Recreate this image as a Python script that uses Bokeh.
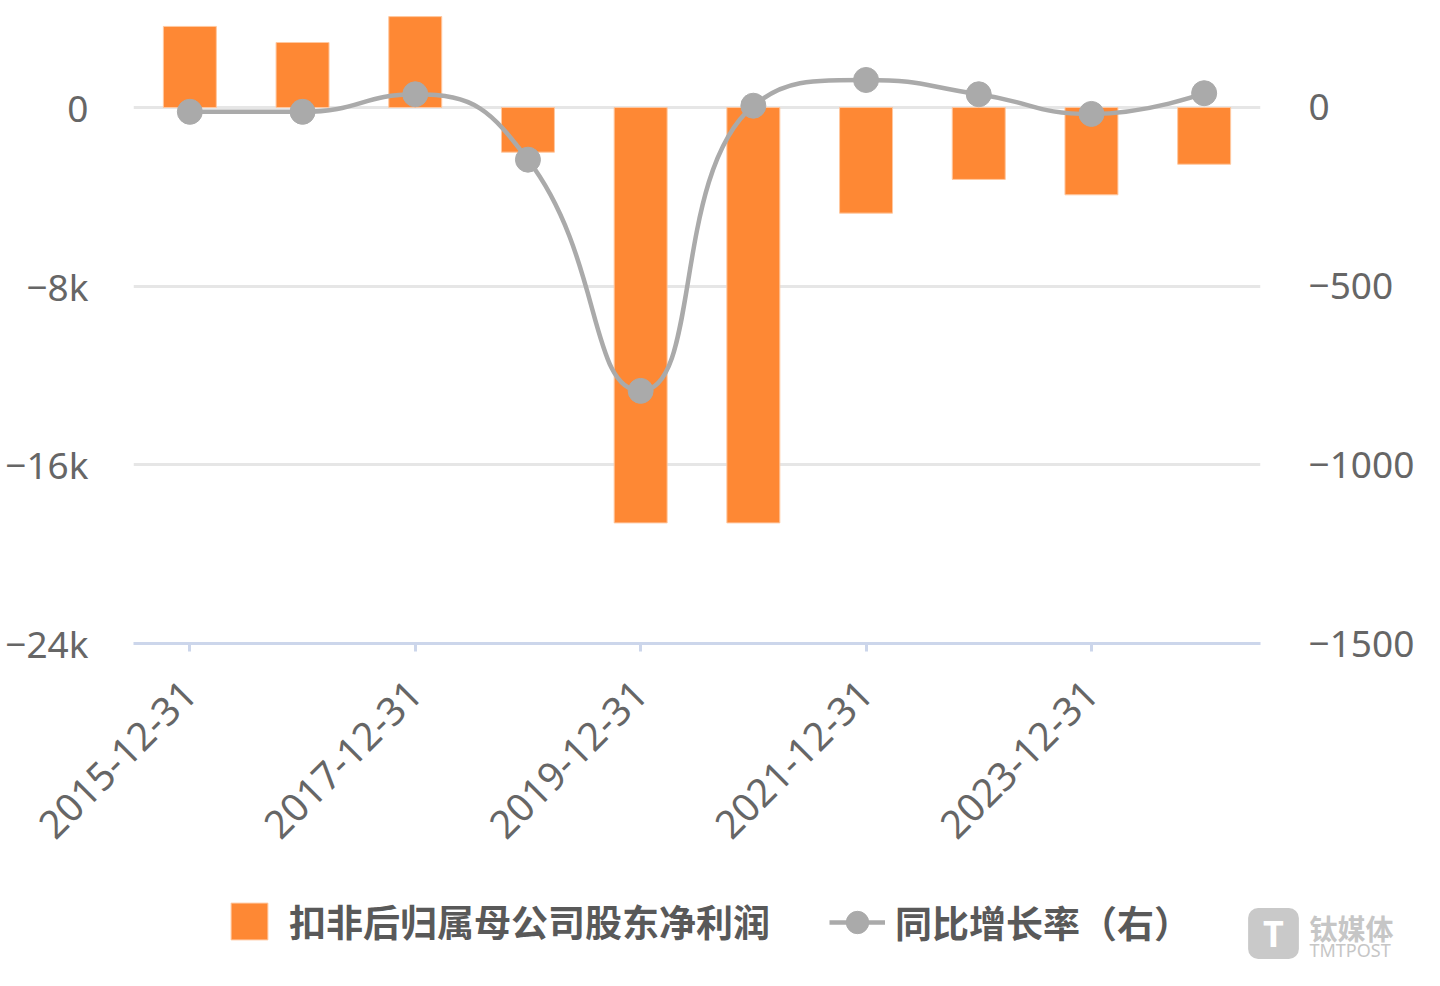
import math
from bokeh.plotting import figure
from bokeh.layouts import column
from bokeh.models import (Range1d, LinearAxis, FixedTicker, Legend, LegendItem,
                          Label, ColumnDataSource)
from bokeh.embed import file_html
from bokeh.resources import INLINE

# ---------------- data ----------------
categories = ["2015-12-31", "2016-12-31", "2017-12-31", "2018-12-31", "2019-12-31",
              "2020-12-31", "2021-12-31", "2022-12-31", "2023-12-31", "2024-12-31"]
profit = [3630, 2910, 4070, -2000, -18600, -18600, -4730, -3220, -3910, -2540]
growth = [-12, -12, 37, -146, -793, 5, 77, 37, -18, 40]
left_ticks = [0, -8000, -16000, -24000]
left_tick_labels = ["0", "−8k", "−16k", "−24k"]
right_ticks = [0, -500, -1000, -1500]
right_tick_labels = ["0", "−500", "−1000", "−1500"]
shown_label_idx = [0, 2, 4, 6, 8]
series_names = ["扣非后归属母公司股东净利润", "同比增长率（右）"]

BAR = "#fe8834"
GREY = "#aaaaaa"
TXT = "#666666"
LATIN = "Noto Sans"
CJK = "Noto Sans CJK SC"

W, H = 1432, 880
ML, MR, MB = 133, 172, 237
FW, FH = W - ML - MR, H - MB

y_top = 4791
r_top = y_top / 24000 * 1500

p = figure(width=W, height=H, output_backend="svg", toolbar_location=None,
           x_range=Range1d(-0.5, len(categories) - 0.5),
           y_range=Range1d(-24000, y_top),
           min_border_left=ML, min_border_right=MR, min_border_bottom=MB,
           min_border_top=0, outline_line_color=None,
           background_fill_color="white", border_fill_color="white")
p.extra_y_ranges = {"right": Range1d(-1500, r_top)}
p.frame_align = False

# grid
p.xgrid.visible = False
p.ygrid.ticker = FixedTicker(ticks=left_ticks)
p.ygrid.grid_line_color = "#e6e6e6"
p.ygrid.grid_line_width = 3

# x axis
xa = p.xaxis[0]
xa.ticker = FixedTicker(ticks=shown_label_idx)
xa.major_label_overrides = {i: categories[i] for i in shown_label_idx}
xa.major_label_orientation = math.pi / 4
xa.axis_line_color = "#ccd6eb"
xa.axis_line_width = 3
xa.major_tick_line_color = "#ccd6eb"
xa.major_tick_line_width = 3
xa.major_tick_out = 8
xa.major_tick_in = 0
xa.minor_tick_line_color = None
xa.major_label_standoff = 36
xa.major_label_text_font = LATIN
xa.major_label_text_font_size = "39px"
xa.major_label_text_color = TXT

# left y axis
ya = p.yaxis[0]
ya.ticker = FixedTicker(ticks=left_ticks)
ya.major_label_overrides = dict(zip(left_ticks, left_tick_labels))
ya.axis_line_color = None
ya.major_tick_line_color = None
ya.major_tick_out = 0
ya.major_tick_in = 0
ya.minor_tick_line_color = None
ya.major_label_standoff = 45
ya.major_label_text_font = LATIN
ya.major_label_text_font_size = "37px"
ya.major_label_text_color = TXT

# right y axis
ra = LinearAxis(y_range_name="right", ticker=FixedTicker(ticks=right_ticks))
ra.major_label_overrides = dict(zip(right_ticks, right_tick_labels))
ra.axis_line_color = None
ra.major_tick_line_color = None
ra.major_tick_out = 0
ra.major_tick_in = 0
ra.minor_tick_line_color = None
ra.major_label_standoff = 48
ra.major_label_text_font = LATIN
ra.major_label_text_font_size = "37px"
ra.major_label_text_color = TXT
p.add_layout(ra, "right")

# bars
xs = list(range(len(categories)))
src = ColumnDataSource(dict(x=xs, top=profit, cat=categories, g=growth))
bars = p.vbar(x="x", top="top", bottom=0, width=0.47, source=src,
              fill_color=BAR, line_color="#ffc8a0", line_width=1)

# smooth line (echarts-like bezier smoothing, computed in pixel space)
sx = FW / len(categories)
sy = FH / (r_top + 1500)


def smooth_segments(xv, yv, smooth=0.5):
    P = [(a * sx, b * sy) for a, b in zip(xv, yv)]
    n = len(P)
    out = []
    cp0 = P[0]
    for i in range(1, n):
        x, y = P[i]
        px, py = P[i - 1]
        if i == n - 1:
            cp1 = (x, y)
            ncp = None
        else:
            nx, ny = P[i + 1]
            vx, vy = nx - px, ny - py
            d0 = math.hypot(x - px, y - py)
            d1 = math.hypot(nx - x, ny - y)
            r = d1 / (d0 + d1)
            ncx = x + vx * smooth * r
            ncy = y + vy * smooth * r
            ncx = max(min(ncx, max(nx, x)), min(nx, x))
            ncy = max(min(ncy, max(ny, y)), min(ny, y))
            vx, vy = ncx - x, ncy - y
            c1x = x - vx * d0 / d1
            c1y = y - vy * d0 / d1
            c1x = max(min(c1x, max(px, x)), min(px, x))
            c1y = max(min(c1y, max(py, y)), min(py, y))
            vx, vy = x - c1x, y - c1y
            ncx = x + vx * d1 / d0
            ncy = y + vy * d1 / d0
            cp1 = (c1x, c1y)
            ncp = (ncx, ncy)
        out.append((px / sx, py / sy, x / sx, y / sy,
                    cp0[0] / sx, cp0[1] / sy, cp1[0] / sx, cp1[1] / sy))
        cp0 = ncp
    return out


segs = smooth_segments(xs, growth)
bsrc = ColumnDataSource(dict(
    x0=[s[0] for s in segs], y0=[s[1] for s in segs],
    x1=[s[2] for s in segs], y1=[s[3] for s in segs],
    cx0=[s[4] for s in segs], cy0=[s[5] for s in segs],
    cx1=[s[6] for s in segs], cy1=[s[7] for s in segs]))
curve = p.bezier(x0="x0", y0="y0", x1="x1", y1="y1", cx0="cx0", cy0="cy0",
                 cx1="cx1", cy1="cy1", source=bsrc, y_range_name="right",
                 line_color=GREY, line_width=4.5, line_cap="round")
dots = p.scatter(x="x", y="g", source=src, y_range_name="right", size=25,
                 fill_color=GREY, line_color=GREY)

# ---------------- legend strip (second figure) ----------------
LH = 100
q = figure(width=W, height=LH, output_backend="svg", toolbar_location=None,
           x_range=Range1d(0, W), y_range=Range1d(0, LH),
           x_axis_type=None, y_axis_type=None,
           min_border=0, outline_line_color=None,
           background_fill_color="white", border_fill_color="white")
q.frame_align = False
q.grid.visible = False

# legend swatches use the same styles as the chart's renderers
lsrc = ColumnDataSource(dict(x=[-1000], y=[-1000]))
lbar = q.vbar(x="x", top="y", width=1, source=lsrc,
              fill_color=BAR, line_color="#ffc8a0", line_width=1)
lline = q.line(x="x", y="y", source=lsrc, line_color=GREY, line_width=4.5)
ldot = q.scatter(x="x", y="y", source=lsrc, size=24,
                 fill_color=GREY, line_color=GREY)

leg_style = dict(orientation="horizontal", padding=0, margin=0,
                 border_line_color=None, background_fill_alpha=0,
                 label_text_font=CJK, label_text_font_size="37px",
                 label_text_font_style="bold", label_text_color="#595959")
leg1 = Legend(items=[LegendItem(label=series_names[0], renderers=[lbar])],
              location=(226, 32), glyph_width=46, glyph_height=46,
              label_standoff=17, **leg_style)
leg2 = Legend(items=[LegendItem(label=series_names[1], renderers=[lline, ldot])],
              location=(829, 27), glyph_width=56, glyph_height=62,
              label_standoff=10, **leg_style)
q.add_layout(leg1, "center")
q.add_layout(leg2, "center")

# watermark
q.add_layout(Label(x=1273, y=47, x_units="screen", y_units="screen",
                   text="T", text_font=LATIN, text_font_size="36px",
                   text_font_style="bold", text_color="white",
                   text_align="center", text_baseline="middle",
                   background_fill_color="#c9c9c9", border_radius=10,
                   padding=dict(left=15, right=15, top=1, bottom=1)))
q.add_layout(Label(x=1309, y=53, x_units="screen", y_units="screen",
                   text="钛媒体", text_font=CJK, text_font_size="28px",
                   text_font_style="bold", text_color="#c6c6c6",
                   text_baseline="middle"))
q.add_layout(Label(x=1309, y=31, x_units="screen", y_units="screen",
                   text="TMTPOST", text_font=LATIN, text_font_size="18px",
                   text_color="#c6c6c6", text_baseline="middle"))

layout = column(p, q, spacing=0)
open("out.html", "w").write(file_html(layout, INLINE))
